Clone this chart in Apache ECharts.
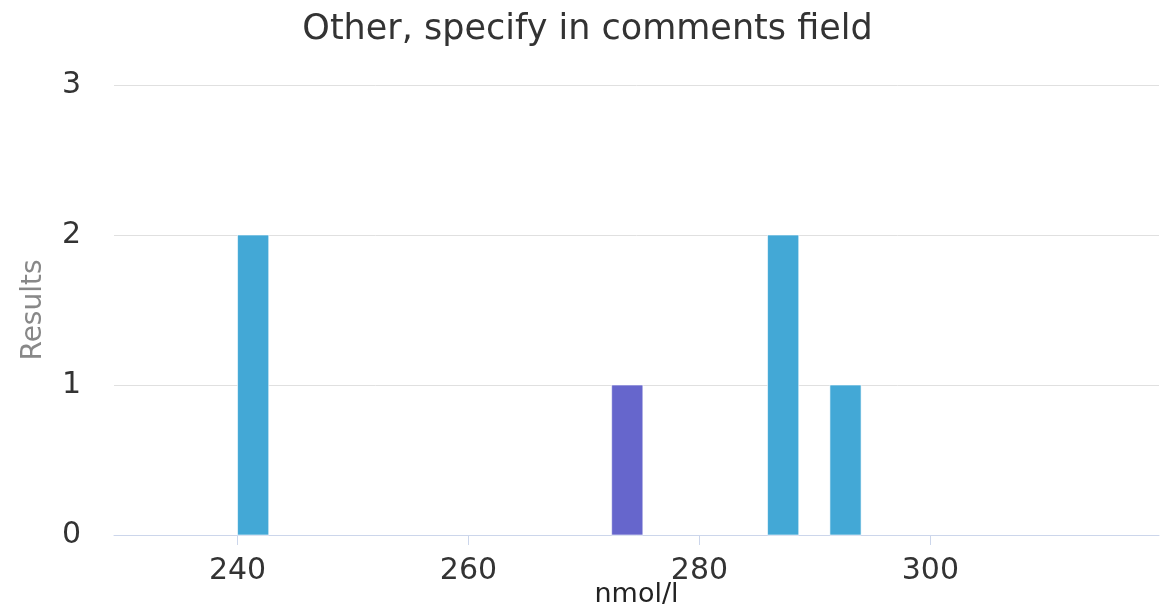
<!DOCTYPE html>
<html>
<head>
<meta charset="utf-8">
<script src="https://cdn.jsdelivr.net/npm/echarts@6/dist/echarts.min.js"></script>
<style>
html,body{margin:0;padding:0;background:#fff;}
#chart{width:1175px;height:616px;}
</style>
</head>
<body>
<div id="chart"></div>
<script>
var titleText = 'Other, specify in comments field';
var xAxisName = 'nmol/l';
var yAxisName = 'Results';
var binStarts = [240, 272.4, 285.9, 291.3];
var binWidth = 2.7;
var counts = [2, 1, 2, 1];
var isOwnResult = [false, true, false, false];
var xTicks = [240, 260, 280, 300];
var xMin = 229.3, xMax = 319.8;
var yMin = 0, yMax = 3, yStep = 1;

var FONT = 'DejaVu Sans';
var data = binStarts.map(function (s, i) { return [s, s + binWidth, counts[i], isOwnResult[i] ? 1 : 0]; });

var chart = echarts.init(document.getElementById('chart'));
chart.setOption({
  animation: false,
  backgroundColor: '#fff',
  title: {
    text: titleText, left: 'center', top: 7,
    textStyle: { fontFamily: FONT, fontSize: 35, fontWeight: 'normal', color: '#333' }
  },
  grid: { left: 114, right: 16, top: 85, bottom: 81, containLabel: false, outerBoundsMode: 'none' },
  xAxis: {
    type: 'value', min: xMin, max: xMax,
    name: xAxisName, nameLocation: 'middle', nameGap: 46, nameMoveOverlap: false,
    nameTextStyle: { fontFamily: FONT, fontSize: 27, color: '#222' },
    axisLine: { show: true, lineStyle: { color: '#ccd6eb', width: 1 } },
    axisTick: { show: true, length: 10, customValues: xTicks, lineStyle: { color: '#ccd6eb' } },
    axisLabel: { customValues: xTicks, fontFamily: FONT, fontSize: 30, color: '#333', margin: 21 },
    splitLine: { show: false }
  },
  yAxis: {
    type: 'value', min: yMin, max: yMax, interval: yStep,
    name: yAxisName, nameLocation: 'middle', nameGap: 66, nameMoveOverlap: false,
    nameTextStyle: { fontFamily: FONT, fontSize: 28, color: '#888' },
    axisLine: { show: false }, axisTick: { show: false },
    axisLabel: { fontFamily: FONT, fontSize: 30, color: '#333', margin: 33 },
    splitLine: { show: true, lineStyle: { color: '#e0e0e0', width: 1 } }
  },
  series: [{
    type: 'custom',
    data: data,
    encode: { x: [0, 1], y: 2 },
    renderItem: function (params, api) {
      var p0 = api.coord([api.value(0), api.value(2)]);
      var p1 = api.coord([api.value(1), 0]);
      var own = api.value(3) === 1;
      return {
        type: 'rect',
        shape: { x: p0[0], y: p0[1], width: p1[0] - p0[0], height: p1[1] - p0[1] },
        style: { fill: own ? '#6666cc' : '#43a8d6', stroke: 'rgba(255,255,255,0.6)', lineWidth: 1 }
      };
    }
  }]
});
</script>
</body>
</html>
